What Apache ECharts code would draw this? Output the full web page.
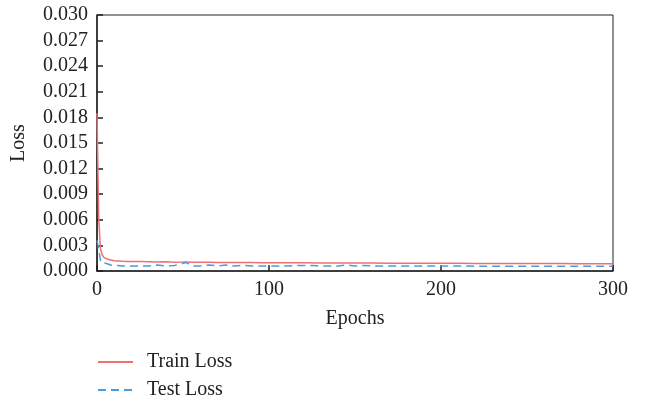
<!DOCTYPE html>
<html><head><meta charset="utf-8">
<script src="https://cdn.jsdelivr.net/npm/echarts@6/dist/echarts.min.js"></script>
<style>html,body{margin:0;padding:0;background:#fff}#c{width:648px;height:397px}</style>
</head><body><div id="c"></div>
<script>
const epochs = [0,1,2,3,4,5,6,8,10,12,13,15,18,20,25,30,35,40,45,50,52,55,60,65,70,75,80,85,90,95,100,110,120,130,140,145,150,155,160,170,180,190,200,210,220,230,240,250,260,270,280,290,300];
const trainLoss = [0.0185,0.0062,0.0026,0.0019,0.0016,0.0015,0.0014,0.0013,0.0012,0.00118,0.00116,0.00114,0.00112,0.00112,0.0011,0.00108,0.00106,0.00108,0.00104,0.00105,0.00106,0.00103,0.00102,0.00103,0.001,0.00101,0.001,0.00099,0.001,0.00098,0.00098,0.00097,0.00096,0.00095,0.00095,0.00094,0.00094,0.00093,0.00093,0.00092,0.00092,0.00091,0.0009,0.0009,0.00089,0.00089,0.00088,0.00088,0.00087,0.00087,0.00086,0.00086,0.00085];
const testLoss = [0.0036,0.0025,0.0013,0.0009,0.0008,0.0009,0.0008,0.0007,0.0006,0.00065,0.0008,0.0006,0.0006,0.0006,0.0006,0.0006,0.0007,0.0006,0.00065,0.0009,0.001,0.0006,0.0006,0.0007,0.0006,0.0007,0.0006,0.00065,0.0006,0.0006,0.0006,0.0006,0.00065,0.0006,0.0006,0.0007,0.0006,0.00065,0.0006,0.0006,0.0006,0.00058,0.00058,0.00058,0.00057,0.00057,0.00056,0.00056,0.00056,0.00055,0.00055,0.00055,0.00055];
const yTicks = ['0.000','0.003','0.006','0.009','0.012','0.015','0.018','0.021','0.024','0.027','0.030'];

const font = 'Liberation Serif';
const fs = 20;
const legendBase = {
  orient: 'vertical', left: 97, padding: 0, itemWidth: 35, itemHeight: 14, itemGap: 8,
  itemStyle: {opacity: 0},
  textStyle: {fontFamily: font, fontSize: fs, color: '#222', padding: [0, 0, 0, 9]}
};
const chart = echarts.init(document.getElementById('c'));
chart.setOption({
  animation: false,
  grid: {left: 97, right: 35, top: 15, bottom: 126, containLabel: false, outerBoundsMode: 'none',
         show: true, borderColor: '#222', borderWidth: 1, backgroundColor: 'transparent'},
  xAxis: {
    type: 'value', min: 0, max: 300, interval: 100,
    name: 'Epochs', nameLocation: 'middle', nameGap: 38,
    nameTextStyle: {fontFamily: font, fontSize: fs, color: '#222'},
    axisLine: {show: true, lineStyle: {color: '#222', width: 1.5}},
    axisTick: {show: true, inside: true, length: 6, lineStyle: {color: '#222', width: 1.5}},
    axisLabel: {fontFamily: font, fontSize: fs, color: '#222', margin: 9},
    splitLine: {show: false}
  },
  yAxis: {
    type: 'value', min: 0, max: 0.030, interval: 0.003,
    name: 'Loss', nameLocation: 'middle', nameGap: 68, nameRotate: 90,
    nameTextStyle: {fontFamily: font, fontSize: fs, color: '#222'},
    axisLine: {show: true, lineStyle: {color: '#222', width: 1.5}},
    axisTick: {show: true, inside: true, length: 6, lineStyle: {color: '#222', width: 1.5}},
    axisLabel: {fontFamily: font, fontSize: fs, color: '#222', margin: 9,
      formatter: (v) => yTicks[Math.round(v / 0.003)]},
    splitLine: {show: false}
  },
  legend: [
    Object.assign({}, legendBase, {top: 352, data: ['Train Loss']}),
    Object.assign({}, legendBase, {top: 380, data: ['Test Loss']})
  ],
  series: [
    {name: 'Train Loss', type: 'line', symbol: 'none', showSymbol: false,
     data: epochs.map((e, i) => [e, trainLoss[i]]),
     lineStyle: {color: '#f07070', width: 1.5}, itemStyle: {color: '#f07070'}},
    {name: 'Test Loss', type: 'line', symbol: 'none', showSymbol: false,
     data: epochs.map((e, i) => [e, testLoss[i]]),
     lineStyle: {color: '#4a9be0', width: 1.5, type: [8, 5]}, itemStyle: {color: '#4a9be0'}}
  ]
});
</script></body></html>
